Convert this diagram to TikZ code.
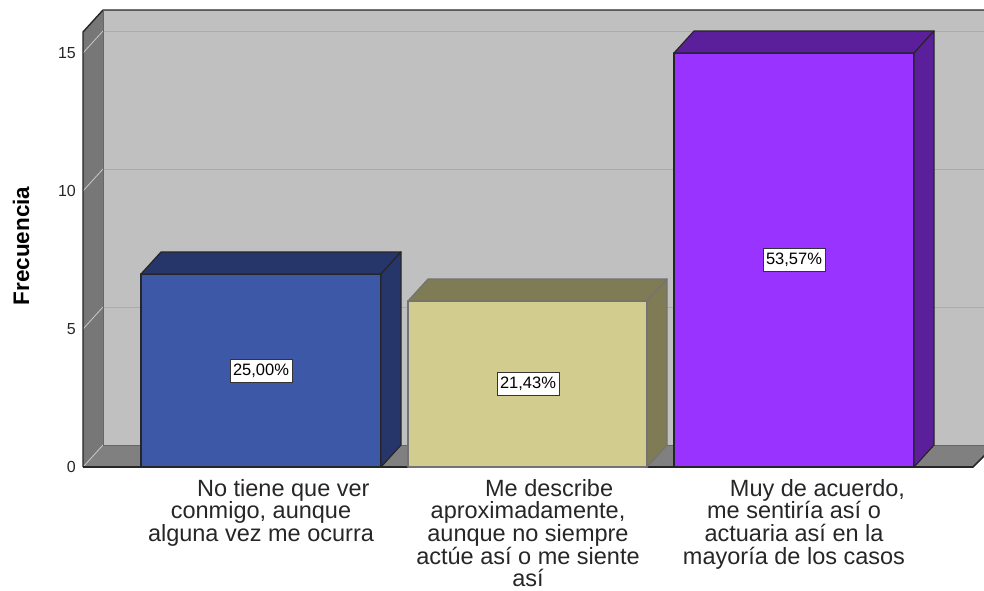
\documentclass[tikz,border=0pt]{standalone}
\usepackage{fontspec}
\setmainfont{Liberation Sans}
\usepackage{xcolor}
\usepackage{tikz}

\definecolor{wallback}{HTML}{C0C0C0}
\definecolor{wallside}{HTML}{777777}
\definecolor{wallfloor}{HTML}{808080}
\definecolor{gridback}{HTML}{ABABAB}
\definecolor{gridside}{HTML}{C8C8C8}
\definecolor{bluefront}{HTML}{3E58A8}
\definecolor{bluedark}{HTML}{26356A}
\definecolor{sandfront}{HTML}{D2CC8E}
\definecolor{sanddark}{HTML}{7F7B55}
\definecolor{violetfront}{HTML}{9933FF}
\definecolor{violetdark}{HTML}{5C1F9C}

\begin{document}
\begin{tikzpicture}[x=1pt, y=-1pt,
    face/.style={draw=black!85, line width=1.2pt, line join=round},
    pct/.style={draw=black!80, fill=white, line width=0.8pt, inner xsep=3pt, inner ysep=4.5pt,
        font=\fontsize{16.5}{17}\selectfont},
    tick/.style={anchor=east, inner sep=0pt, font=\fontsize{16}{16}\selectfont, text=black!85},
    cat/.style={anchor=north, align=center, inner sep=0pt, text=black!85,
        font=\fontsize{23.5}{22.6}\selectfont}]
    \useasboundingbox (0,0) rectangle (984,590);
    \clip (0,0) rectangle (984,590);

    % walls and floor
    \fill[wallback] (103,10) rectangle (990,445);
    \fill[wallside] (83,32) -- (103,10) -- (103,445) -- (83,467) -- cycle;
    \fill[wallfloor] (83,467) -- (103,445) -- (995,445) -- (973,467) -- cycle;

    % grid lines
    \draw[gridback, line width=1pt] (103,31) -- (990,31);
    \draw[gridback, line width=1pt] (103,169) -- (990,169);
    \draw[gridback, line width=1pt] (103,307) -- (990,307);
    \draw[gridside, line width=0.8pt] (83,53) -- (103,31);
    \draw[gridside, line width=0.8pt] (83,191) -- (103,169);
    \draw[gridside, line width=0.8pt] (83,329) -- (103,307);
    \draw[gridside, line width=0.8pt] (83,467) -- (103,445);

    % wall edges
    \draw[black!85, line width=1.4pt] (83,467) -- (83,32) -- (103,10) -- (990,10);
    \draw[black!60, line width=1pt] (103,10) -- (103,445) -- (990,445);
    \draw[black!85, line width=1.6pt] (83,467) -- (973,467) -- (995,445);

    % bar 1
    \filldraw[face, fill=bluefront] (141,467) rectangle (381,274);
    \filldraw[face, fill=bluedark] (141,274) -- (161,252) -- (401,252) -- (381,274) -- cycle;
    \filldraw[face, fill=bluedark] (381,274) -- (401,252) -- (401,445) -- (381,467) -- cycle;

    % bar 2
    \filldraw[face, draw=black!55, fill=sandfront] (408,467) rectangle (647,301);
    \filldraw[face, draw=black!55, fill=sanddark] (408,301) -- (428,279) -- (667,279) -- (647,301) -- cycle;
    \filldraw[face, draw=black!55, fill=sanddark] (647,301) -- (667,279) -- (667,445) -- (647,467) -- cycle;

    % bar 3
    \filldraw[face, fill=violetfront] (674,467) rectangle (914,53);
    \filldraw[face, fill=violetdark] (674,53) -- (694,31) -- (934,31) -- (914,53) -- cycle;
    \filldraw[face, fill=violetdark] (914,53) -- (934,31) -- (934,445) -- (914,467) -- cycle;

    % axis
    \node[tick] (t0) at (76,467) {0};
    \node[tick] (t5) at (76,329) {5};
    \node[tick] (t10) at (76,191) {10};
    \node[tick] (t15) at (76,53) {15};
    \node[rotate=90, font=\fontsize{22.5}{23}\selectfont\bfseries] (ylab) at (21,246) {Frecuencia};

    % values
    \node[pct] (p1) at (261,371) {25,00\%};
    \node[pct] (p2) at (528,384) {21,43\%};
    \node[pct] (p3) at (794,260) {53,57\%};

    % categories
    \node[cat] (c1) at (261,479) {\hspace*{1.9em}No tiene que ver\\conmigo, aunque\\alguna vez me ocurra};
    \node[cat] (c2) at (528,479) {\hspace*{1.8em}Me describe\\aproximadamente,\\aunque no siempre\\actúe así o me siente\\así};
    \node[cat] (c3) at (794,479) {\hspace*{2em}Muy de acuerdo,\\me sentiría así o\\actuaria así en la\\mayoría de los casos};
\end{tikzpicture}
\end{document}
